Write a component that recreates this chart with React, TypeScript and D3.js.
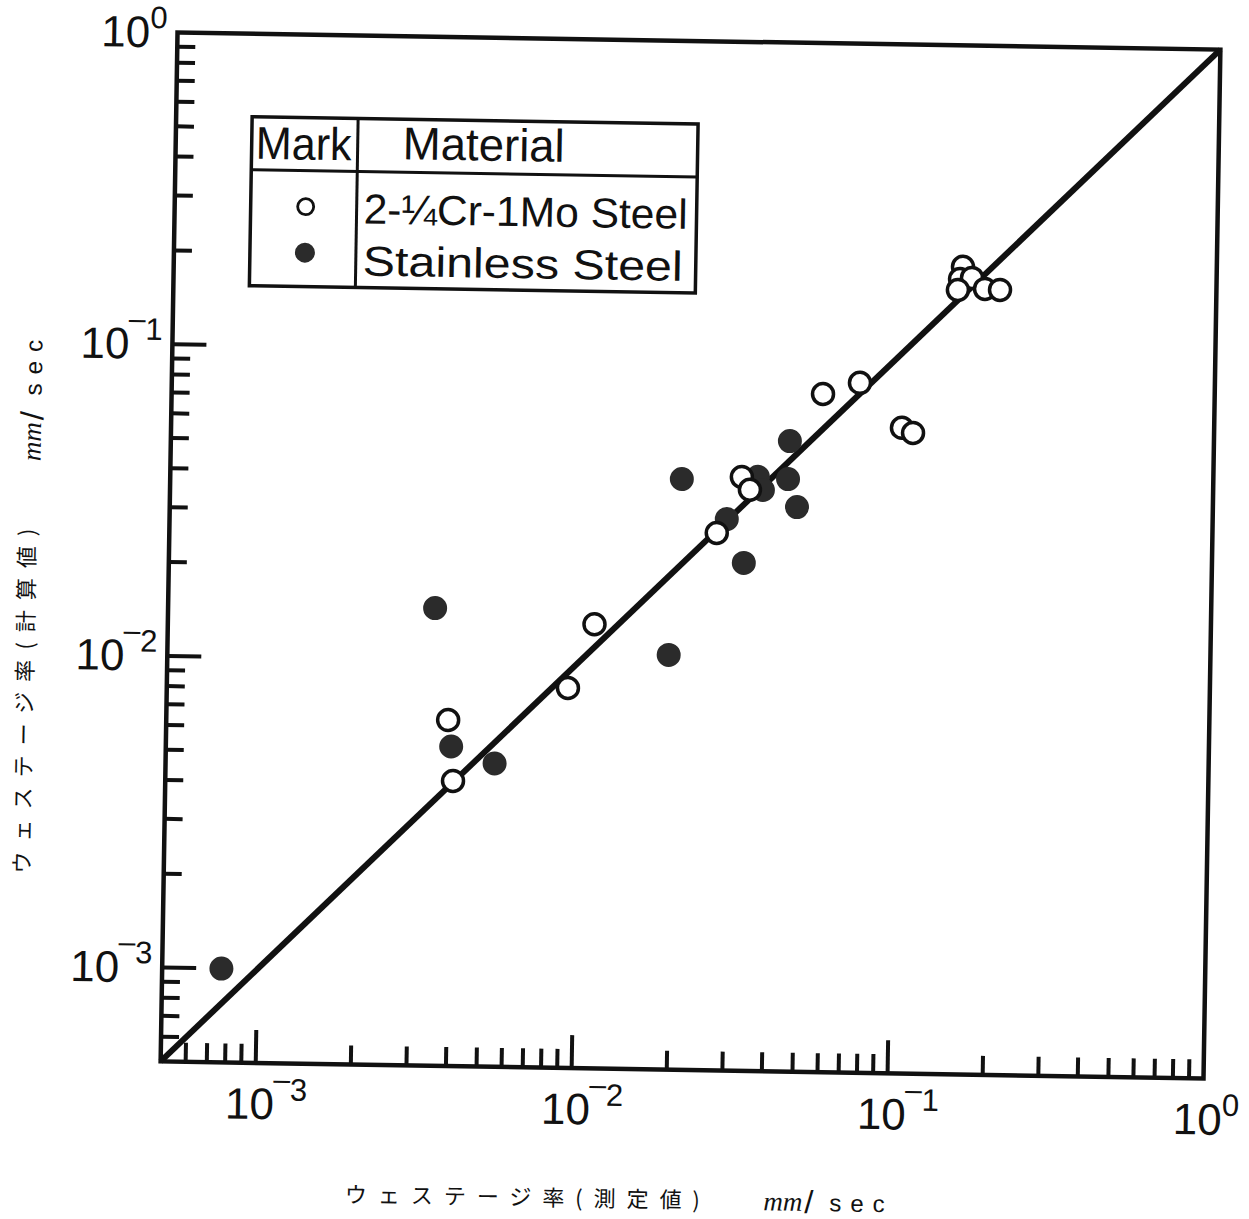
import React, { useRef, useEffect } from 'react';
import * as d3 from 'd3';

// [measured, calculated] wastage rate, mm/sec
const crMoSteel: [number, number][] = [
  [4.07e-3, 4.11e-3],
  [3.9e-3, 6.44e-3],
  [9.3e-3, 8.28e-3],
  [1.12e-2, 1.33e-2],
  [2.7e-2, 2.65e-2],
  [3.22e-2, 4.02e-2],
  [3.42e-2, 3.66e-2],
  [5.76e-2, 7.49e-2],
  [7.53e-2, 8.17e-2],
  [0.1028, 5.89e-2],
  [0.1115, 5.68e-2],
  [0.1573, 0.1949],
  [0.1542, 0.178],
  [0.1682, 0.1798],
  [0.152, 0.1642],
  [0.1852, 0.166],
  [0.2066, 0.1651],
];

const stainlessSteel: [number, number][] = [
  [7.7e-4, 1.0e-3],
  [3.5e-3, 1.47e-2],
  [4.0e-3, 5.3e-3],
  [5.5e-3, 4.7e-3],
  [1.93e-2, 1.07e-2],
  [2.08e-2, 3.93e-2],
  [2.9e-2, 2.94e-2],
  [3.3e-2, 2.13e-2],
  [3.62e-2, 4.03e-2],
  [3.76e-2, 3.66e-2],
  [4.51e-2, 3.98e-2],
  [4.55e-2, 5.27e-2],
  [4.83e-2, 3.24e-2],
];

const decades = [1e-3, 1e-2, 1e-1, 1];
const decadeExp = ['-3', '-2', '-1', '0'];
const domain: [number, number] = [5e-4, 1];

const legendHead = ['Mark', 'Material'];
const legendRows = ['2-¼Cr-1Mo Steel', 'Stainless Steel'];
const xTitle = 'ウェステージ率(測定値)';
const yTitle = 'ウェステージ率(計算値)';

const NUM_FONT = "'Liberation Sans', Arial, sans-serif";
const JP_FONT = "'Noto Sans CJK JP', sans-serif";

function App() {
  const svgRef = useRef<SVGSVGElement>(null);

  useEffect(() => {
    const svg = d3.select(svgRef.current);
    svg.selectAll('*').remove();

    const margin = { top: 41, right: 37, bottom: 149, left: 169 };
    const width = 1249;
    const height = 1219;
    const left = margin.left;
    const right = width - margin.right;
    const top = margin.top;
    const bottom = height - margin.bottom;

    const x = d3.scaleLog().domain(domain).range([left, right]);
    const y = d3.scaleLog().domain(domain).range([bottom, top]);

    svg.append('rect').attr('width', width).attr('height', height).attr('fill', '#fff');

    // the scanned original sits slightly rotated
    const g = svg.append('g').attr('transform', 'rotate(0.94 690 556)');

    const isMajor = (t: number) => Math.abs(Math.log10(t) - Math.round(Math.log10(t))) < 1e-6;
    const ticks = x.ticks().filter(t => t > domain[0] * 1.001 && t < domain[1] * 0.999);

    // diagonal y = x
    const line = d3.line<[number, number]>().x(d => x(d[0])).y(d => y(d[1]));
    g.append('path')
      .attr('d', line([[domain[0], domain[0]], [domain[1], domain[1]]]))
      .attr('stroke', '#111')
      .attr('stroke-width', 6)
      .attr('fill', 'none');

    // ticks (inside, bottom and left only)
    g.append('g')
      .selectAll('line')
      .data(ticks)
      .join('line')
      .attr('x1', d => x(d))
      .attr('x2', d => x(d))
      .attr('y1', bottom)
      .attr('y2', d => bottom - (isMajor(d) ? 33 : 19))
      .attr('stroke', '#111')
      .attr('stroke-width', 4);

    g.append('g')
      .selectAll('line')
      .data(ticks)
      .join('line')
      .attr('y1', d => y(d))
      .attr('y2', d => y(d))
      .attr('x1', left)
      .attr('x2', d => left + (isMajor(d) ? 34 : 18))
      .attr('stroke', '#111')
      .attr('stroke-width', 4);

    // frame
    g.append('rect')
      .attr('x', left)
      .attr('y', top)
      .attr('width', right - left)
      .attr('height', bottom - top)
      .attr('fill', 'none')
      .attr('stroke', '#111')
      .attr('stroke-width', 4.5);

    // tick labels 10^n
    const powerLabel = (sel: any, exp: string) => {
      sel.append('tspan').text('10');
      if (exp.startsWith('-')) {
        sel.append('tspan').attr('font-size', 30).attr('dy', -30).attr('dx', -1).text('–');
        sel.append('tspan').attr('font-size', 31).attr('dy', 11).text(exp.slice(1));
      } else {
        sel.append('tspan').attr('font-size', 31).attr('dy', -19).text(exp);
      }
    };

    decades.forEach((d, i) => {
      const t = g.append('text')
        .attr('x', left - 10)
        .attr('y', y(d) + 15)
        .attr('text-anchor', 'end')
        .attr('font-family', NUM_FONT)
        .attr('font-size', 44)
        .attr('fill', '#111');
      powerLabel(t, decadeExp[i]);

      const tx = g.append('text')
        .attr('x', x(d) - 30)
        .attr('y', bottom + 56)
        .attr('text-anchor', 'start')
        .attr('font-family', NUM_FONT)
        .attr('font-size', 44)
        .attr('fill', '#111');
      powerLabel(tx, decadeExp[i]);
    });

    // points
    g.append('g')
      .selectAll('circle')
      .data(stainlessSteel)
      .join('circle')
      .attr('cx', d => x(d[0]))
      .attr('cy', d => y(d[1]))
      .attr('r', 12)
      .attr('fill', '#2b2b2b');

    g.append('g')
      .selectAll('circle')
      .data(crMoSteel)
      .join('circle')
      .attr('cx', d => x(d[0]))
      .attr('cy', d => y(d[1]))
      .attr('r', 10.5)
      .attr('fill', '#fff')
      .attr('stroke', '#111')
      .attr('stroke-width', 3.5);

    // legend table
    const lg = g.append('g');
    const lx0 = 245, lx1 = 691, ly0 = 124, ly1 = 293, lyDiv = 177, lxDiv = 351;
    lg.append('rect')
      .attr('x', lx0).attr('y', ly0)
      .attr('width', lx1 - lx0).attr('height', ly1 - ly0)
      .attr('fill', '#fff').attr('stroke', '#111').attr('stroke-width', 3.5);
    lg.append('line')
      .attr('x1', lx0).attr('x2', lx1).attr('y1', lyDiv).attr('y2', lyDiv)
      .attr('stroke', '#111').attr('stroke-width', 3);
    lg.append('line')
      .attr('x1', lxDiv).attr('x2', lxDiv).attr('y1', ly0).attr('y2', ly1)
      .attr('stroke', '#111').attr('stroke-width', 3);

    const legendText = (txt: string, tx: number, ty: number, len: number, size: number) =>
      lg.append('text')
        .attr('x', tx).attr('y', ty)
        .attr('font-family', NUM_FONT)
        .attr('font-size', size)
        .attr('fill', '#111')
        .attr('textLength', len)
        .attr('lengthAdjust', 'spacingAndGlyphs')
        .text(txt);

    legendText(legendHead[0], 249, 166, 96, 46);
    legendText(legendHead[1], 396, 164, 162, 46);
    legendText(legendRows[0], 358, 229, 324, 42);
    legendText(legendRows[1], 358, 281, 320, 42);

    lg.append('circle').attr('cx', 300).attr('cy', 213).attr('r', 8)
      .attr('fill', '#fff').attr('stroke', '#111').attr('stroke-width', 2.8);
    lg.append('circle').attr('cx', 300).attr('cy', 259).attr('r', 10)
      .attr('fill', '#2b2b2b');

    // axis titles
    g.append('text')
      .attr('x', 533).attr('y', 1198)
      .attr('text-anchor', 'middle')
      .attr('dominant-baseline', 'central')
      .attr('font-family', JP_FONT)
      .attr('font-size', 22)
      .attr('fill', '#111')
      .attr('textLength', 355)
      .attr('lengthAdjust', 'spacing')
      .text(xTitle);

    const unitX = g.append('text')
      .attr('x', 774).attr('y', 1200)
      .attr('dominant-baseline', 'central')
      .attr('font-size', 24)
      .attr('fill', '#111');
    unitX.append('tspan').attr('font-family', "'Liberation Serif', serif").attr('font-style', 'italic').attr('font-size', 27).text('mm');
    unitX.append('tspan').attr('font-family', NUM_FONT).attr('font-size', 32).attr('dx', 2).text('/');
    unitX.append('tspan').attr('font-family', NUM_FONT).attr('letter-spacing', 9).attr('dx', 16).text('sec');

    g.append('text')
      .attr('transform', 'translate(25,712) rotate(-90)')
      .attr('text-anchor', 'middle')
      .attr('dominant-baseline', 'central')
      .attr('font-family', JP_FONT)
      .attr('font-size', 22)
      .attr('fill', '#111')
      .attr('textLength', 345)
      .attr('lengthAdjust', 'spacing')
      .text(yTitle);

    const unitY = g.append('text')
      .attr('transform', 'translate(30,472) rotate(-90)')
      .attr('dominant-baseline', 'central')
      .attr('font-size', 24)
      .attr('fill', '#111');
    unitY.append('tspan').attr('font-family', "'Liberation Serif', serif").attr('font-style', 'italic').attr('font-size', 27).text('mm');
    unitY.append('tspan').attr('font-family', NUM_FONT).attr('font-size', 32).attr('dx', 2).text('/');
    unitY.append('tspan').attr('font-family', NUM_FONT).attr('letter-spacing', 9).attr('dx', 16).text('sec');
  }, []);

  return (
    <svg
      ref={svgRef}
      width={1249}
      height={1219}
      style={{ position: 'absolute', left: 0, top: 0, display: 'block' }}
    ></svg>
  );
}

export default App;
